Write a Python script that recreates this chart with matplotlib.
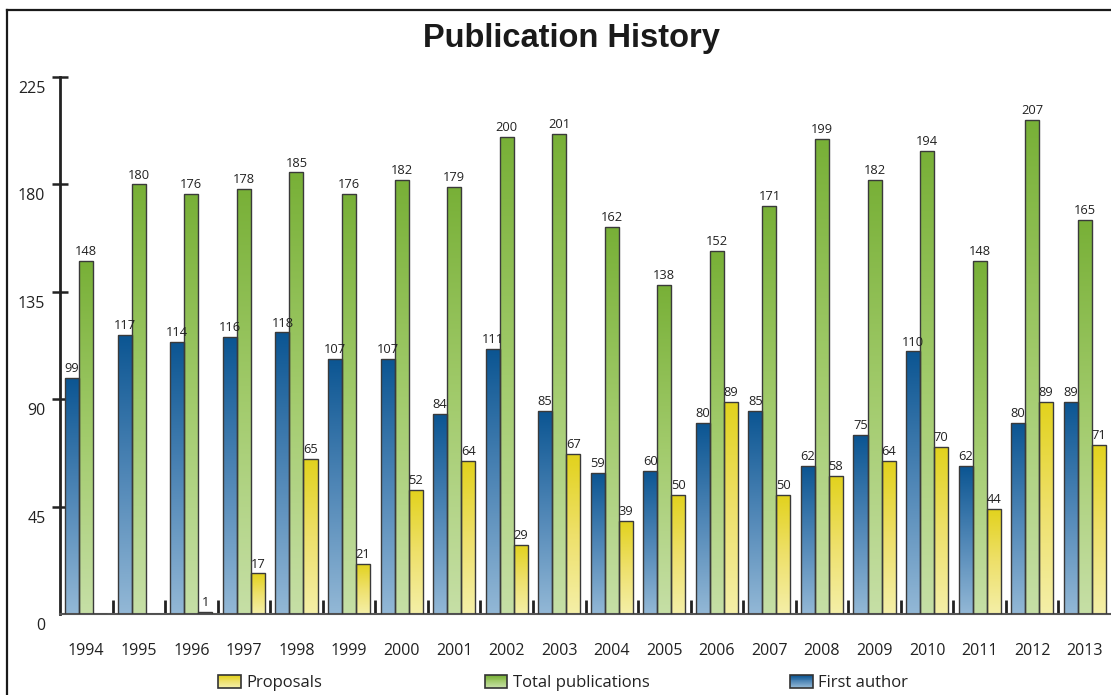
import numpy as np
import matplotlib
matplotlib.use("Agg")
import matplotlib.pyplot as plt
from matplotlib.colors import LinearSegmentedColormap
from matplotlib.patches import Rectangle
from matplotlib.legend_handler import HandlerBase
from matplotlib.lines import Line2D
import matplotlib.transforms as mtransforms

years = [str(y) for y in range(1994, 2014)]
first_author = [99, 117, 114, 116, 118, 107, 107, 84, 111, 85, 59, 60, 80, 85, 62, 75, 110, 62, 80, 89]
total_pubs = [148, 180, 176, 178, 185, 176, 182, 179, 200, 201, 162, 138, 152, 171, 199, 182, 194, 148, 207, 165]
proposals = [0, 0, 1, 17, 65, 21, 52, 64, 29, 67, 39, 50, 89, 50, 58, 64, 70, 44, 89, 71]
yticks = [0, 45, 90, 135, 180, 225]

# light (bottom) -> dark (top)
blue_cm = LinearSegmentedColormap.from_list("b", ["#93b8d6", "#4f86b6", "#0b5592"])
green_cm = LinearSegmentedColormap.from_list("g", ["#c6dfa6", "#a2cb6c", "#78b037"])
yellow_cm = LinearSegmentedColormap.from_list("y", ["#f4efa8", "#eee06a", "#e2d21c"])

plt.rcParams['font.family'] = ['Open Sans', 'DejaVu Sans']

W, H = 1111, 695
fig = plt.figure(figsize=(W / 100, H / 100), dpi=100)
ax = fig.add_axes([60 / W, 81 / H, (W - 60) / W, 537 / H])

x = np.arange(len(years))
bw = 0.267
grad = np.linspace(1, 0, 256).reshape(-1, 1)


def grad_bars(xpos, vals, cm):
    bars = ax.bar(xpos, vals, bw, facecolor="none", edgecolor="#3a3a3a",
                  linewidth=1.0, zorder=3)
    for b, v in zip(bars, vals):
        x0, w = b.get_x(), b.get_width()
        if v <= 0:
            continue
        im = ax.imshow(grad, extent=[x0, x0 + w, 0, v], aspect="auto",
                       cmap=cm, vmin=0, vmax=1, zorder=2, interpolation="bilinear")
        im.set_clip_path(b)
        ax.text(x0 + w / 2, v + 1.2, str(v), ha="center", va="bottom",
                fontsize=9.3, color="#222222", zorder=4)
    return bars


grad_bars(x - bw, first_author, blue_cm)
grad_bars(x, total_pubs, green_cm)
grad_bars(x + bw, proposals, yellow_cm)

ax.set_xlim(-0.5, len(years) - 0.5)
ax.set_ylim(0, 225)

for s in ["top", "right"]:
    ax.spines[s].set_visible(False)
ax.spines["left"].set_color("#222222")
ax.spines["left"].set_linewidth(2)
ax.spines["bottom"].set_color("#555555")
ax.spines["bottom"].set_linewidth(1.5)

ax.set_yticks(yticks)
ax.set_yticklabels([str(t) for t in yticks])
ax.tick_params(axis="y", direction="inout", length=11, width=1.8, color="#222222",
               pad=5, labelsize=11.5, labelcolor="#222222")
ax.yaxis.get_major_ticks()[0].tick1line.set_visible(False)
off = mtransforms.ScaledTranslation(0, -10 / 100, fig.dpi_scale_trans)
for lbl in ax.get_yticklabels():
    lbl.set_transform(lbl.get_transform() + off)

ax.set_xticks(x[:-1] + 0.5)
ax.set_xticklabels([])
ax.set_xticks(x, minor=True)
ax.set_xticklabels(years, minor=True)
ax.tick_params(axis="x", which="major", direction="in", length=10, width=2, color="#222222")
ax.tick_params(axis="x", which="minor", length=0, pad=21, labelsize=11.5, labelcolor="#222222")

fig.text(571 / W, 1 - 38 / H, "Publication History", ha="center", va="center",
         fontsize=23.5, fontweight="bold", family="Liberation Sans", color="#1a1a1a")

# frame lines
fig.add_artist(Line2D([7 / W, 1], [1 - 10 / H, 1 - 10 / H], color="#1a1a1a", linewidth=1.6))
fig.add_artist(Line2D([7 / W, 7 / W], [0, 1 - 10 / H], color="#1a1a1a", linewidth=1.6))


class GradHandler(HandlerBase):
    def __init__(self, cm):
        super().__init__()
        self.cm = cm

    def create_artists(self, legend, orig_handle, xdescent, ydescent, width,
                       height, fontsize, trans):
        arts = []
        n = 14
        for i in range(n):
            r = Rectangle((-xdescent, -ydescent + height * i / n), width, height / n,
                          facecolor=self.cm(i / (n - 1)), linewidth=0, transform=trans)
            arts.append(r)
        arts.append(Rectangle((-xdescent, -ydescent), width, height, facecolor="none",
                              edgecolor="#333333", linewidth=1.2, transform=trans))
        return arts


for label, cm, xp in [("Proposals", yellow_cm, 218), ("Total publications", green_cm, 485),
                      ("First author", blue_cm, 790)]:
    h = Rectangle((0, 0), 1, 1)
    fig.legend([h], [label], handler_map={h: GradHandler(cm)}, loc="center left",
               bbox_to_anchor=(xp / W, 1 - 683 / H), frameon=False, borderpad=0,
               borderaxespad=0, handletextpad=0.35, handlelength=1.35,
               handleheight=0.85, fontsize=12, labelcolor="#222222")

fig.savefig("out.png", dpi=100)
